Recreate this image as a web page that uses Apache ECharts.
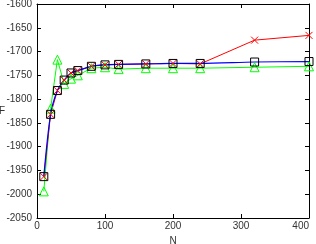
<!DOCTYPE html>
<html><head><meta charset="utf-8">
<script src="https://cdn.jsdelivr.net/npm/echarts@6/dist/echarts.min.js"></script>
<style>html,body{margin:0;padding:0;background:#fff}#c{width:316px;height:244px}</style>
</head><body><div id="c"></div>
<script>
const N = [10, 20, 30, 40, 50, 60, 80, 100, 120, 160, 200, 240, 320, 400];
const black = [-1963, -1832, -1782, -1760, -1745, -1740, -1731, -1728, -1727, -1726, -1725, -1725, -1722, -1721];
const red = [-1963, -1832, -1782, -1760, -1745, -1740, -1731, -1728, -1727, -1726, -1725, -1726, -1676, -1666];
const green = [-1994, -1820, -1717, -1768, -1757, -1750, -1735, -1733, -1737, -1735, -1735, -1735, -1733, -1731];
const blue = black;
const xTicks = [0, 100, 200, 300, 400];
const yTicks = [-2050, -2000, -1950, -1900, -1850, -1800, -1750, -1700, -1650, -1600];

const pair = (ys) => N.map((n, i) => [n, ys[i]]);
const font = {fontFamily: 'Liberation Sans, Arial, sans-serif', fontSize: 10, color: '#333'};
const chart = echarts.init(document.getElementById('c'));
const axisCommon = {
  axisLine: {show: true, onZero: false, lineStyle: {color: '#000', width: 1}},
  axisTick: {show: true, inside: true, length: 4, lineStyle: {color: '#000'}},
  splitLine: {show: false}
};
chart.setOption({
  animation: false,
  grid: {left: 37, right: 7, top: 4, bottom: 26, containLabel: false, outerBoundsMode: 'none'},
  xAxis: [
    Object.assign({type: 'value', position: 'bottom', min: xTicks[0], max: xTicks[xTicks.length - 1], interval: 100,
      name: 'N', nameLocation: 'middle', nameGap: 18, nameMoveOverlap: false,
      nameTextStyle: font, axisLabel: Object.assign({show: true, margin: 3, alignMaxLabel: 'right', formatter: v => String(v)}, font)}, axisCommon),
    Object.assign({type: 'value', position: 'top', min: 0, max: 400, interval: 100, axisLabel: {show: false}}, axisCommon)
  ],
  yAxis: [
    Object.assign({type: 'value', position: 'left', min: yTicks[0], max: yTicks[yTicks.length - 1], interval: 50,
      name: 'F', nameLocation: 'middle', nameGap: 32, nameMoveOverlap: false,
      nameRotate: 0, nameTextStyle: font, axisLabel: Object.assign({margin: 5, formatter: v => String(v)}, font)}, axisCommon),
    Object.assign({type: 'value', position: 'right', min: -2050, max: -1600, interval: 50, axisLabel: {show: false}}, axisCommon)
  ],
  series: [
    {type: 'line', data: pair(green), symbol: 'triangle', symbolSize: 9, showAllSymbol: true,
      itemStyle: {color: 'none', borderColor: '#00ff00', borderWidth: 1},
      lineStyle: {color: '#00ff00', width: 1}},
    {type: 'line', data: pair(red), symbol: 'path://M0,0L10,10M10,0L0,10', symbolSize: 7,
      itemStyle: {color: '#ff0000', borderColor: '#ff0000', borderWidth: 1},
      lineStyle: {color: '#ff0000', width: 1}},
    {type: 'line', data: pair(black), symbol: 'rect', symbolSize: 8,
      itemStyle: {color: 'none', borderColor: '#000', borderWidth: 1},
      lineStyle: {width: 0, opacity: 0}},
    {type: 'line', data: pair(blue), symbol: 'none', smooth: 0.3,
      lineStyle: {color: '#0000ff', width: 1.2}}
  ]
});
</script></body></html>
